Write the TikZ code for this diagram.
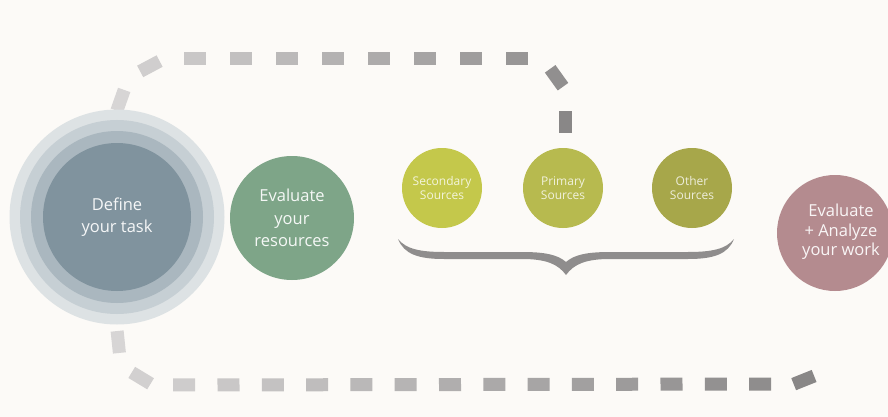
\documentclass[tikz,border=0pt]{standalone}
\usepackage{fontspec}
\setmainfont{Open Sans}
\usetikzlibrary{decorations.markings}
\definecolor{bg}{HTML}{FCFAF7}
\definecolor{ringA}{HTML}{DDE2E4}
\definecolor{ringB}{HTML}{C6CFD4}
\definecolor{ringC}{HTML}{AAB7BF}
\definecolor{definec}{HTML}{80939E}
\definecolor{greenc}{HTML}{7EA588}
\definecolor{secc}{HTML}{C4C84B}
\definecolor{primc}{HTML}{B7BA4F}
\definecolor{othc}{HTML}{A7A74A}
\definecolor{pinkc}{HTML}{B48B8F}
\definecolor{bracec}{HTML}{8F8D8D}
\definecolor{traildark}{HTML}{898787}
\definecolor{traillight}{HTML}{D7D5D5}
\newcommand\topdash{%
  \pgfmathtruncatemacro\trailpct{max(0,min(100,100-(\pgfkeysvalueof{/pgf/decoration/mark info/sequence number}-1)*100/11))}%
  \fill[traildark!\trailpct!traillight] (-11pt,-6.5pt) rectangle (11pt,6.5pt);}
\newcommand\botdash{%
  \pgfmathtruncatemacro\trailpct{max(0,min(100,(\pgfkeysvalueof{/pgf/decoration/mark info/sequence number}-1)*100/16))}%
  \fill[traildark!\trailpct!traillight] (-11pt,-6.5pt) rectangle (11pt,6.5pt);}
\tikzset{
  bubble/.style={circle, inner sep=0pt, draw=none, align=center, text=white, text opacity=0.92},
  bigtxt/.style={font=\fontsize{16.5}{22.5}\selectfont},
  smalltxt/.style={font=\fontsize{12}{14}\selectfont, text opacity=0.8},
  lbl/.style={inner sep=0pt, align=center, text=white, text opacity=0.92}
}
\begin{document}
\begin{tikzpicture}[x=1pt,y=-1pt]
\fill[bg] (0,0) rectangle (888,417);
\useasboundingbox (0,0) rectangle (888,417);
% dashed trails
\path[decorate, decoration={markings, mark=between positions 11pt and 1 step 46pt with {\topdash}}]
  (565,133) -- (565,104) .. controls (565,79.15) and (544.85,59) .. (520,59)
  -- (179,59) .. controls (144.76,59) and (117,86.76) .. (117,121);
\path[decorate, decoration={markings, mark=between positions 11pt and 1 step 44.3pt with {\botdash}}]
  (118,331) -- (118,337) .. controls (118,363.5) and (139.5,385) .. (166,385)
  -- (782,384) .. controls (797,384) and (807,380) .. (820,371);
% define circle with rings
\coordinate (dc) at (117,217);
\fill[ringA] (dc) circle (107.5pt);
\fill[ringB] (dc) circle (97pt);
\fill[ringC] (dc) circle (86pt);
\node[bubble, bigtxt, fill=definec, minimum size=148pt] (define) at (dc) {Define\\your task};
\node[bubble, bigtxt, fill=greenc, minimum size=124pt] (evalres) at (292,218) {Evaluate\\your\\resources};
\node[bubble, smalltxt, fill=secc, minimum size=80pt] (secondary) at (442,188) {Secondary\\Sources};
\node[bubble, smalltxt, fill=primc, minimum size=80pt] (primary) at (563,188) {Primary\\Sources};
\node[bubble, smalltxt, fill=othc, minimum size=80pt] (other) at (692,188) {Other\\Sources};
\node[bubble, fill=pinkc, minimum size=116pt] (workdisc) at (835,233) {};
\node[lbl, font=\fontsize{16.5}{19.5}\selectfont] (evalwork) at (841,232) {Evaluate\\+ Analyze\\your work};
% brace
\fill[bracec] (398,239) .. controls (404,254) and (418,259) .. (444,259) -- (522,259)
  .. controls (546,259) and (558,264) .. (566,275)
  .. controls (574,264) and (586,259) .. (610,259) -- (688,259)
  .. controls (714,259) and (728,254) .. (734,239)
  .. controls (726,249) and (712,252) .. (688,252) -- (610,252)
  .. controls (586,252) and (574,255) .. (566,262)
  .. controls (558,255) and (546,252) .. (522,252) -- (444,252)
  .. controls (420,252) and (406,249) .. cycle;
\end{tikzpicture}
\end{document}
